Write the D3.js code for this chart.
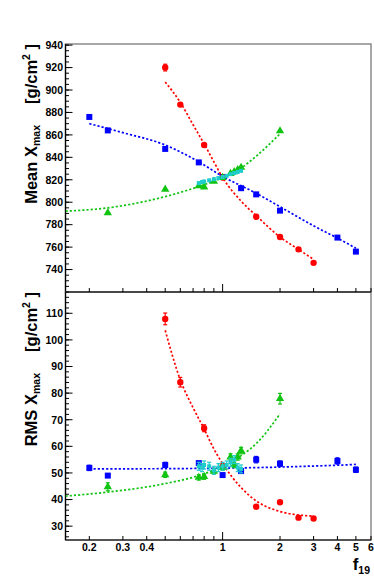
<!DOCTYPE html>
<html><head><meta charset="utf-8">
<script src="https://cdn.jsdelivr.net/npm/d3@7"></script>
<style>
html,body{margin:0;padding:0;background:#fff;}
svg{display:block;font-family:"Liberation Sans",Arial,sans-serif;font-weight:bold;}
</style></head>
<body><svg id="c" width="374" height="584"></svg>
<script>
// ---- data ----
const redF = [0.5, 0.6, 0.8, 1, 1.5, 2, 2.5, 3];
const redMean = [920, 887, 851, 822, 787, 769, 758, 746];
const redMeanErr = [3, 2, 1.5, 1, 1, 1, 1, 1];
const redRms = [107.9, 84.1, 66.8, 52.5, 37.3, 39.0, 33.2, 32.9];
const redRmsErr = [2.2, 1.8, 1.3, 1, 0.8, 0.8, 0.7, 0.7];

const blueF = [0.2, 0.25, 0.5, 0.75, 1, 1.25, 1.5, 2, 4, 5];
const blueMean = [876, 864, 847.5, 835.5, 822.5, 812.5, 807, 792.5, 768.5, 756];
const blueMeanErr = [1, 1, 1, 1, 1, 1, 1, 1, 1, 1];
const blueRms = [51.9, 49.0, 53.0, 53.7, 49.2, 50.7, 55.0, 53.5, 54.5, 51.2];
const blueRmsErr = [1, 0.8, 1, 0.8, 0.8, 0.8, 1.2, 1, 1.2, 1];

const greenF = [0.25, 0.5, 0.75, 0.8, 0.9, 1, 1.1, 1.15, 1.2, 1.25, 2];
const greenMean = [790.5, 811.5, 814.5, 813.5, 818.5, 822, 825.5, 827, 829, 831, 863.5];
const greenMeanErr = [1, 1, 1, 1, 1, 1, 1, 1, 1, 1, 1];
const greenRms = [44.8, 49.3, 48.3, 48.6, 50.6, 52, 56, 53, 56, 58.4, 77.9];
const greenRmsErr = [1.5, 1, 1, 1, 1, 1, 1.2, 1, 1.2, 1.2, 2];

const cyanF = [0.75, 0.78, 0.8, 0.85, 0.9, 0.95, 1, 1.05, 1.1, 1.15, 1.2, 1.25];
const cyanMean = [817, 818, 818.5, 819.5, 820.5, 821.5, 822.5, 823.5, 825, 826, 827, 828];
const cyanMeanErr = [1.5, 1.5, 1.5, 1.5, 1.5, 1.5, 1.5, 1.5, 1.5, 1.5, 1.5, 1.5];
const cyanRms = [52.5, 52, 53, 52.5, 51, 52, 52.5, 53, 54, 55, 52, 51.5];
const cyanRmsErr = [1.5, 1.5, 1.5, 1.5, 1.5, 1.5, 1.5, 1.5, 1.5, 1.5, 1.5, 1.5];

// fit curves
const redFitF = [0.5, 0.6, 0.7, 0.8, 0.9, 1, 1.25, 1.5, 2, 2.5, 3];
const redFitMean = [907, 889, 869, 852, 836, 822, 801, 788, 769, 758, 749];
const redFitRms = [103.6, 85, 74.5, 66.5, 59, 53.5, 44.5, 39.5, 35.5, 34.2, 33.8];
const blueFitF = [0.2, 0.3, 0.5, 0.75, 1, 1.5, 2, 3, 4, 5];
const blueFitMean = [870, 862, 851, 836, 823, 808, 796, 779, 768, 759];
const blueFitRms = [51.5, 51.55, 51.6, 51.7, 51.8, 52.0, 52.2, 52.6, 52.9, 53.2];
const greenFitF = [0.15, 0.25, 0.5, 0.75, 1, 1.25, 1.5, 2];
const greenFitMean = [792, 795, 805, 814, 822, 830.5, 841, 861];
const greenFitRms = [41.3, 42.8, 46, 49, 52.5, 56.5, 61, 72.2];

const xTickVals = [0.2, 0.3, 0.4, 1, 2, 3, 4, 5, 6];
const xTickLabels = ["0.2", "0.3", "0.4", "1", "2", "3", "4", "5", "6"];
const meanTicks = [740, 760, 780, 800, 820, 840, 860, 880, 900, 920, 940];
const rmsTicks = [30, 40, 50, 60, 70, 80, 90, 100, 110];

// ---- layout ----
const L = 65.5, R = 371, T1 = 44, B1 = 292, T2 = 292, B2 = 540;
const svg = d3.select("#c");
const x = d3.scaleLog().domain([0.15, 6]).range([L, R]);
const yTop = d3.scaleLinear().domain([720, 941]).range([B1, T1]);
const yBot = d3.scaleLinear().domain([24.8, 118]).range([B2, T2]);

const COL = {red: "#ff0000", blue: "#0000ff", green: "#11c411", cyan: "#1fcccc"};

function frame(t, b) {
  svg.append("rect").attr("x", L).attr("y", t).attr("width", R - L).attr("height", b - t)
    .attr("fill", "none").attr("stroke", "#8a8a8a").attr("stroke-width", 1.5);
  svg.append("line").attr("x1", L).attr("x2", L).attr("y1", t).attr("y2", b)
    .attr("stroke", "#000").attr("stroke-width", 1.2);
}
frame(T1, B1); frame(T2, B2);

function yAxis(y, ticks, minorStep, lo, hi) {
  const g = svg.append("g");
  const minors = d3.range(lo, hi + 1e-9, minorStep);
  g.selectAll("line.mi").data(minors).enter().append("line")
    .attr("x1", L).attr("x2", L + 3.5).attr("y1", d => y(d)).attr("y2", d => y(d))
    .attr("stroke", "#000").attr("stroke-width", 1);
  g.selectAll("line.ma").data(ticks).enter().append("line")
    .attr("x1", L).attr("x2", L + 7).attr("y1", d => y(d)).attr("y2", d => y(d))
    .attr("stroke", "#000").attr("stroke-width", 1);
  g.selectAll("text").data(ticks).enter().append("text")
    .attr("x", L - 2.5).attr("y", d => y(d)).attr("dy", "0.36em")
    .attr("text-anchor", "end").attr("font-size", 10.5).text(d => d);
}
yAxis(yTop, meanTicks, 5, 725, 940);
yAxis(yBot, rmsTicks, 2, 26, 118);

function xTicks(yb) {
  const minors = [0.2,0.3,0.4,0.5,0.6,0.7,0.8,0.9,2,3,4,5,6];
  const g = svg.append("g");
  g.selectAll("line.mi").data(minors).enter().append("line")
    .attr("x1", d => x(d)).attr("x2", d => x(d)).attr("y1", yb).attr("y2", yb - 4)
    .attr("stroke", "#000").attr("stroke-width", 1);
  g.append("line").attr("x1", x(1)).attr("x2", x(1)).attr("y1", yb).attr("y2", yb - 8)
    .attr("stroke", "#000").attr("stroke-width", 1);
  svg.append("line").attr("x1", L).attr("x2", R).attr("y1", yb).attr("y2", yb)
    .attr("stroke", "#000").attr("stroke-width", 1.2);
}
xTicks(B1); xTicks(B2);

svg.append("g").selectAll("text").data(xTickVals).enter().append("text")
  .attr("x", d => x(d)).attr("y", 551).attr("text-anchor", "middle")
  .attr("font-size", 10.5).text((d, i) => xTickLabels[i]);

// axis titles
function yTitle(yEnd, word) {
  const t = svg.append("text").attr("transform", `translate(37,${yEnd}) rotate(-90)`)
    .attr("text-anchor", "end").attr("font-size", 16.5);
  t.append("tspan").text(word + " X");
  t.append("tspan").attr("font-size", 10.5).attr("dy", 3).text("max");
  t.append("tspan").attr("dy", -3).text("\u2003 [g/cm");
  t.append("tspan").attr("font-size", 10.5).attr("dy", -7).text("2");
  t.append("tspan").attr("dy", 7).text(" ]");
}
yTitle(T1, "Mean");
yTitle(T2, "RMS");
const xt = svg.append("text").attr("x", R - 1).attr("y", 570).attr("text-anchor", "end").attr("font-size", 17);
xt.append("tspan").text("f");
xt.append("tspan").attr("font-size", 10.5).attr("dy", 4).text("19");

// clip paths
svg.append("clipPath").attr("id", "cp1").append("rect").attr("x", L).attr("y", T1).attr("width", R - L).attr("height", B1 - T1);
svg.append("clipPath").attr("id", "cp2").append("rect").attr("x", L).attr("y", T2).attr("width", R - L).attr("height", B2 - T2);

function fit(y, fs, vs, col, clip) {
  const line = d3.line().x(d => x(d[0])).y(d => y(d[1])).curve(d3.curveMonotoneX);
  svg.append("path").attr("clip-path", `url(#${clip})`).attr("d", line(fs.map((f, i) => [f, vs[i]])))
    .attr("fill", "none").attr("stroke", col).attr("stroke-width", 1.7).attr("stroke-dasharray", "2.2,2");
}

function points(y, fs, vs, es, col, shape, size) {
  const g = svg.append("g");
  fs.forEach((f, i) => {
    const cx = x(f), y1 = y(vs[i] + es[i]), y2 = y(vs[i] - es[i]);
    g.append("line").attr("x1", cx).attr("x2", cx).attr("y1", y1).attr("y2", y2).attr("stroke", col).attr("stroke-width", 1.2);
    if (Math.abs(y2 - y1) > 5) {
      g.append("line").attr("x1", cx - 2).attr("x2", cx + 2).attr("y1", y1).attr("y2", y1).attr("stroke", col).attr("stroke-width", 1.2);
      g.append("line").attr("x1", cx - 2).attr("x2", cx + 2).attr("y1", y2).attr("y2", y2).attr("stroke", col).attr("stroke-width", 1.2);
    }
  });
  g.selectAll("path").data(fs).enter().append("path")
    .attr("transform", (d, i) => `translate(${x(d)},${y(vs[i])})`)
    .attr("d", d3.symbol().type(shape).size(size)).attr("fill", col);
}

// top panel
fit(yTop, blueFitF, blueFitMean, COL.blue, "cp1");
fit(yTop, redFitF, redFitMean, COL.red, "cp1");
fit(yTop, greenFitF, greenFitMean, COL.green, "cp1");
points(yTop, blueF, blueMean, blueMeanErr, COL.blue, d3.symbolSquare, 36);
points(yTop, redF, redMean, redMeanErr, COL.red, d3.symbolCircle, 32);
points(yTop, greenF, greenMean, greenMeanErr, COL.green, d3.symbolTriangle, 30);
points(yTop, cyanF, cyanMean, cyanMeanErr, COL.cyan, d3.symbolSquare, 16);

// bottom panel
fit(yBot, blueFitF, blueFitRms, COL.blue, "cp2");
fit(yBot, redFitF, redFitRms, COL.red, "cp2");
fit(yBot, greenFitF, greenFitRms, COL.green, "cp2");
points(yBot, blueF, blueRms, blueRmsErr, COL.blue, d3.symbolSquare, 36);
points(yBot, redF, redRms, redRmsErr, COL.red, d3.symbolCircle, 32);
points(yBot, greenF, greenRms, greenRmsErr, COL.green, d3.symbolTriangle, 30);
points(yBot, cyanF, cyanRms, cyanRmsErr, COL.cyan, d3.symbolSquare, 16);
</script></body></html>
